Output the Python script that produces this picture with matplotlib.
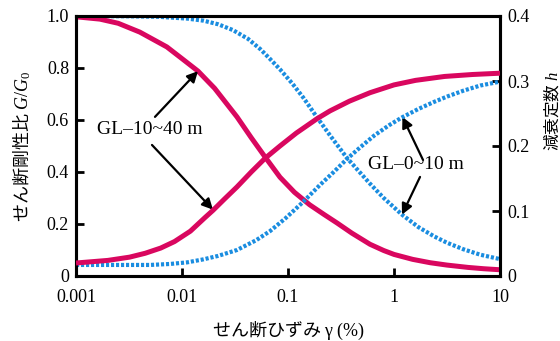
import matplotlib
matplotlib.use("Agg")
import matplotlib.pyplot as plt

plt.rcParams['font.family'] = ['Liberation Serif', 'Noto Sans CJK JP', 'DejaVu Sans']
plt.rcParams['mathtext.fontset'] = 'custom'
plt.rcParams['mathtext.rm'] = 'Liberation Serif'
plt.rcParams['mathtext.it'] = 'Liberation Serif:italic'

# GL-10~40 m : G/G0
red_g_x = [0.001, 0.00168, 0.0025, 0.004, 0.0072, 0.01, 0.01416, 0.0203, 0.033, 0.045, 0.0607, 0.084, 0.115, 0.16, 0.22, 0.29, 0.4, 0.594, 0.8, 1.0, 1.5, 2.2, 3.16, 5.0, 7.0, 10]
red_g_y = [0.997, 0.988, 0.972, 0.938, 0.881, 0.836, 0.788, 0.722, 0.612, 0.532, 0.458, 0.380, 0.322, 0.274, 0.236, 0.204, 0.165, 0.122, 0.098, 0.083, 0.064, 0.051, 0.042, 0.033, 0.028, 0.024]
# GL-10~40 m : h
red_h_x = [0.001, 0.002, 0.0032, 0.0045, 0.0063, 0.0085, 0.012, 0.0165, 0.0196, 0.025, 0.033, 0.045, 0.0607, 0.084, 0.12, 0.188, 0.249, 0.38, 0.594, 1.0, 1.6, 3.0, 5.5, 10]
red_h_y = [0.020, 0.024, 0.029, 0.035, 0.043, 0.053, 0.069, 0.090, 0.101, 0.118, 0.137, 0.160, 0.181, 0.200, 0.220, 0.242, 0.254, 0.269, 0.282, 0.294, 0.301, 0.307, 0.310, 0.312]
# GL-0~10 m : G/G0
blue_g_x = [0.001, 0.003, 0.006, 0.0112, 0.016, 0.022, 0.0302, 0.042, 0.055, 0.0676, 0.084, 0.11, 0.14, 0.188, 0.25, 0.36, 0.48, 0.594, 0.8, 1.19, 1.7, 2.4, 3.16, 4.5, 6.5, 10]
blue_g_y = [1.0, 0.999, 0.997, 0.990, 0.982, 0.968, 0.946, 0.912, 0.872, 0.835, 0.795, 0.740, 0.685, 0.610, 0.540, 0.454, 0.397, 0.355, 0.300, 0.236, 0.188, 0.152, 0.128, 0.103, 0.082, 0.065]
# GL-0~10 m : h
blue_h_x = [0.001, 0.005, 0.0077, 0.0112, 0.0158, 0.022, 0.033, 0.05, 0.0676, 0.095, 0.139, 0.2, 0.27, 0.36, 0.48, 0.65, 0.9, 1.19, 1.7, 2.4, 3.16, 4.5, 6.5, 10]
blue_h_y = [0.017, 0.017, 0.0185, 0.021, 0.0255, 0.031, 0.040, 0.055, 0.069, 0.089, 0.114, 0.140, 0.160, 0.180, 0.198, 0.216, 0.232, 0.244, 0.257, 0.268, 0.276, 0.285, 0.293, 0.299]

x_ticks = [0.001, 0.01, 0.1, 1, 10]
x_labels = ['0.001', '0.01', '0.1', '1', '10']
yl_ticks = [0, 0.2, 0.4, 0.6, 0.8, 1.0]
yl_labels = ['0', '0.2', '0.4', '0.6', '0.8', '1.0']
yr_ticks = [0, 0.1, 0.2, 0.3, 0.4]
yr_labels = ['0', '0.1', '0.2', '0.3', '0.4']

RED = '#d9075f'
BLUE = '#1a8de0'

fig = plt.figure(figsize=(5.6, 3.41), dpi=100)
ax = fig.add_axes([76/560, 1-276/341, 424/560, 260/341])
ax2 = ax.twinx()

dot = (0, (0.75, 0.45))
ax.plot(blue_g_x, blue_g_y, color=BLUE, lw=3.0, ls=dot, dash_capstyle='butt', zorder=2)
ax2.plot(blue_h_x, blue_h_y, color=BLUE, lw=3.0, ls=dot, dash_capstyle='butt', zorder=2)
ax.plot(red_g_x, red_g_y, color=RED, lw=3.6, solid_capstyle='butt', solid_joinstyle='round', zorder=3)
ax2.plot(red_h_x, red_h_y, color=RED, lw=3.6, solid_capstyle='butt', solid_joinstyle='round', zorder=3)

ax.set_xscale('log')
ax.set_xlim(0.001, 10)
ax.set_ylim(0, 1.0)
ax2.set_ylim(0, 0.4)
ax.set_xticks(x_ticks)
ax.set_xticklabels(x_labels)
ax.xaxis.set_minor_locator(matplotlib.ticker.NullLocator())
ax.set_yticks(yl_ticks)
ax.set_yticklabels(yl_labels)
ax2.set_yticks(yr_ticks)
ax2.set_yticklabels(yr_labels)

for a in (ax, ax2):
    for s in a.spines.values():
        s.set_linewidth(2.2)
    a.tick_params(direction='in', length=6, width=2.0, labelsize=13, pad=5)
ax.tick_params(axis='x', pad=9)
ax.tick_params(axis='y', right=False)
ax2.tick_params(axis='y', left=False)

jp = 'Noto Sans CJK JP'
ax.set_xlabel('せん断ひずみ $\\mathrm{γ\\ (\\%)}$', fontsize=13, family=jp)
ax.set_ylabel('せん断剛性比 $G/G_0$', fontsize=13, family=jp)
ax2.set_ylabel('減衰定数 $h$', fontsize=12, family=jp)
ax.xaxis.set_label_coords(0.50, -0.168)
ax.yaxis.set_label_coords(-0.101, 0.5)
ax2.yaxis.set_label_coords(1.098, 0.635)

arrow = dict(arrowstyle='-|>', color='black', lw=1.6, mutation_scale=16, shrinkA=0, shrinkB=0)
ax.annotate('', xy=(0.01416, 0.788), xytext=(0.00556, 0.612), arrowprops=arrow, zorder=5)
ax.annotate('', xy=(0.0196, 0.255), xytext=(0.00521, 0.504), arrowprops=arrow, zorder=5)
ax.text(0.00499, 0.562, 'GL–10~40 m', fontsize=14, ha='center', va='center', zorder=5)
ax.annotate('', xy=(1.2, 0.612), xytext=(1.88, 0.446), arrowprops=arrow, zorder=5)
ax.annotate('', xy=(1.19, 0.236), xytext=(1.76, 0.381), arrowprops=arrow, zorder=5)
ax.text(1.61, 0.427, 'GL–0~10 m', fontsize=14, ha='center', va='center', zorder=5)

fig.savefig('out.png', dpi=100)
